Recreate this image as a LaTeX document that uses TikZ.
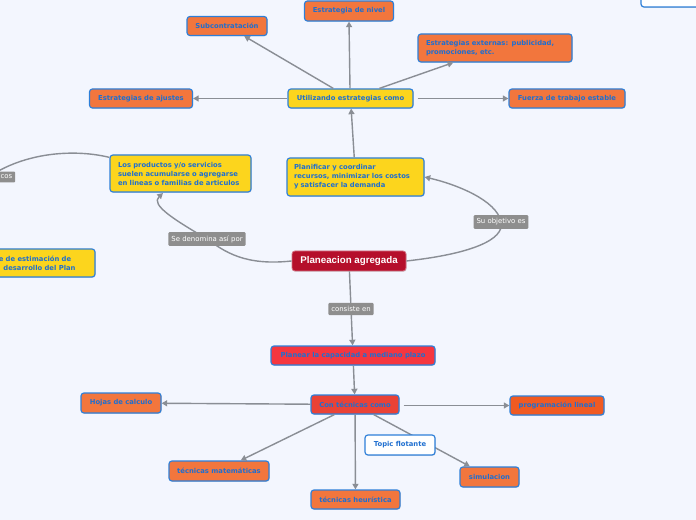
\documentclass[tikz,border=0pt]{standalone}
\usepackage{fontspec}
\setmainfont{DejaVu Sans}
\newfontfamily\lab{Liberation Sans}
\usetikzlibrary{arrows.meta,shadows}
\definecolor{bgc}{HTML}{F3F6FE}
\definecolor{orc}{HTML}{F2763D}
\definecolor{ordk}{HTML}{F05A22}
\definecolor{redA}{HTML}{F5363F}
\definecolor{redB}{HTML}{EA4236}
\definecolor{dred}{HTML}{B50F2B}
\definecolor{yel}{HTML}{FCD51D}
\definecolor{bordc}{HTML}{2D7FD9}
\definecolor{txtc}{HTML}{1F6FD0}
\definecolor{edgec}{HTML}{8A8E95}
\definecolor{labc}{HTML}{8E8E8E}
\tikzset{
  sz/.style 2 args={minimum width=#1*0.75pt, minimum height=#2*0.75pt},
  topic/.style={rounded corners=2.2pt, draw=bordc, line width=0.9pt, text=txtc,
    font=\fontsize{5.1}{6.75}\selectfont\bfseries, inner sep=0pt, align=center,
    drop shadow={shadow xshift=0.5pt, shadow yshift=-0.6pt, opacity=0.25}},
  obox/.style={topic, fill=orc},
  ybox/.style={topic, fill=yel},
  wbox/.style={topic, fill=white},
  mainbox/.style={rounded corners=2.2pt, fill=dred, draw=dred!60!white, line width=0.6pt,
    text=white, font=\lab\fontsize{7.3}{8}\selectfont\bfseries, inner sep=0pt,
    drop shadow={shadow xshift=0.5pt, shadow yshift=-0.6pt, opacity=0.25}},
  lbl/.style={fill=labc, text=white, rounded corners=0.8pt, inner xsep=2.2pt, inner ysep=2.6pt,
    font=\fontsize{5.2}{5.5}\selectfont},
  conn/.style={draw=edgec, line width=1.05pt, -{Triangle[length=4.2pt,width=4.5pt]}},
  plain/.style={draw=edgec, line width=1.05pt}
}
\begin{document}
\begin{tikzpicture}[x=0.75pt,y=-0.75pt]
\clip (0,0) rectangle (696,520);
\fill[bgc] (0,0) rectangle (696,520);

% nodes
\node[obox, sz={80}{19}] (sub) at (227,26) {Subcontratación};
\node[obox, sz={89}{20}] (niv) at (349,11) {Estrategia de nivel};
\node[obox, sz={154}{28}, text width=138*0.75pt, align=left] (ext) at (495,48) {Estrategias externas: publicidad,\\promociones, etc.};
\node[obox, sz={103}{19}] (aju) at (141,98.5) {Estrategias de ajustes};
\node[ybox, sz={125}{19}] (uti) at (350.5,98.5) {Utilizando estrategias como};
\node[obox, sz={116}{19}] (fue) at (567,98.5) {Fuerza de trabajo estable};
\node[ybox, sz={141}{37}, text width=125*0.75pt, align=left] (pro) at (180.5,173.5) {Los productos y/o servicios\\suelen acumularse o agregarse\\en lineas o familias de articulos};
\node[ybox, sz={137}{38}, text width=123*0.75pt, align=left] (pla) at (355.5,177) {Planificar y coordinar\\recursos, minimizar los costos\\y satisfacer la demanda};
\node[ybox, sz={130}{28}] (fase) at (30,263) {};
\node[text=txtc, font=\fontsize{5.1}{6.75}\selectfont\bfseries, align=left, anchor=west, inner sep=0pt] (fasetxt) at (-1.5,263) {e de estimación de\\\hspace*{3.5pt}desarrollo del Plan};
\node[wbox, sz={70}{30}] (tr) at (676,-8) {};
\node[mainbox, sz={114}{20}] (pa) at (349,261) {Planeacion agregada};
\node[topic, fill=redA, sz={164}{19}] (plz) at (353,355.5) {Planear la capacidad a mediano plazo};
\node[topic, fill=redB, sz={88}{19}] (con) at (355,404.5) {Con técnicas como};
\node[obox, sz={80}{20}] (hoj) at (121,403) {Hojas de calculo};
\node[topic, fill=ordk, sz={94}{19}] (lin) at (557,405.5) {programación lineal};
\node[obox, sz={100}{20}] (mat) at (219,471) {técnicas matemáticas};
\node[obox, sz={89}{19}] (heu) at (355.5,499.5) {técnicas heurística};
\node[obox, sz={59}{20}] (sim) at (489.5,477) {simulacion};

% connectors
\draw[conn] (uti) -- (sub);
\draw[conn] (uti.north) ++(-0.5,0) coordinate (u1) (u1) -- (niv.south);
\draw[conn] (uti) -- (ext);
\draw[conn] (uti) -- (aju);
\draw[conn] (uti.east) ++(4,0) coordinate (u2) (u2) -- (fue.west);
\draw[conn] (pla) -- (uti);
\coordinate (c1) at (501,222);
\coordinate (c2) at (207,239);
\draw[conn] (pa.east) .. controls (470,254) and (505,240) .. (c1) .. controls (497,200) and (455,184) .. (pla.east);
\draw[conn] (pa.west) .. controls (245,266) and (225,252) .. (c2) .. controls (175,220) and (150,205) .. (163,193);
\coordinate (off1) at (-10,176);
\draw[plain] (pro.north west) ++(0,3) coordinate (p1) (p1) .. controls (80,150) and (30,150) .. (off1);
\draw[conn] (pa) -- (plz);
\draw[conn] (plz) -- (con);
\draw[conn] (con) -- (hoj);
\draw[conn] (con.east) ++(4,1) coordinate (k1) (k1) -- (lin.west);
\draw[conn] (con) -- (mat);
\draw[conn] (con) -- (heu);
\draw[conn] (con) -- (sim);

% floating topic drawn above the connector
\node[wbox, sz={70}{20}] (flo) at (400,445) {Topic flotante};

% labels
\node[lbl] (l1) at (c1) {Su objetivo es};
\node[lbl] (l2) at (c2) {Se denomina así por};
\node[lbl] (l3) at (351,309) {consiste en};
\node[lbl, anchor=east, text width=40pt, align=right] (l4) at (15.5,177) {cos};
\end{tikzpicture}
\end{document}
